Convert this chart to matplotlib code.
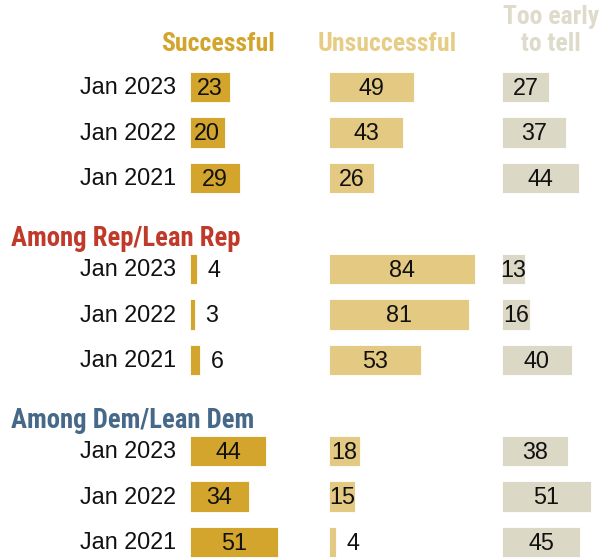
import matplotlib
matplotlib.use("Agg")
import matplotlib.pyplot as plt
from matplotlib import font_manager as fm

# ---- data ----
row_labels = ["Jan 2023", "Jan 2022", "Jan 2021"]
group_titles = ["", "Among Rep/Lean Rep", "Among Dem/Lean Dem"]
column_titles = ["Successful", "Unsuccessful", "Too early\nto tell"]

successful_all = [23, 20, 29]
unsuccessful_all = [49, 43, 26]
too_early_all = [27, 37, 44]

successful_rep = [4, 3, 6]
unsuccessful_rep = [84, 81, 53]
too_early_rep = [13, 16, 40]

successful_dem = [44, 34, 51]
unsuccessful_dem = [18, 15, 4]
too_early_dem = [38, 51, 45]

groups = [
    [successful_all, unsuccessful_all, too_early_all],
    [successful_rep, unsuccessful_rep, too_early_rep],
    [successful_dem, unsuccessful_dem, too_early_dem],
]

# ---- style ----
bar_colors = ["#D3A52C", "#E4C983", "#DCD8C6"]
title_colors = ["#D3A52C", "#E6CD86", "#DEDBCB"]
group_colors = [None, "#BF3A2B", "#46698A"]
col_offsets = [0, 80, 180]          # column starts in percentage units
PX = 1.735                          # pixels per percentage point
X0 = 190                            # pixel x of first column
W, H = 606, 558
ROW0, ROWSTEP = 87, 45.5

names = {f.name for f in fm.fontManager.ttflist}
bold_font = ["Roboto Condensed", "Liberation Sans Narrow", "DejaVu Sans"]
bold_font = [f for f in bold_font if f in names] or ["DejaVu Sans"]
stretch = "condensed"
reg_font = ["Liberation Sans", "DejaVu Sans"]

def px(x):
    return (x - X0) / PX

def py(y):
    return (y - ROW0) / ROWSTEP

fig = plt.figure(figsize=(W / 100, H / 100), dpi=100)
ax = fig.add_axes([0, 0, 1, 1])
ax.set_xlim(px(0), px(W))
ax.set_ylim(py(H), py(0))
ax.axis("off")

row_idx = 0
for g, (title, series) in enumerate(zip(group_titles, groups)):
    if title:
        ax.text(px(11), row_idx - 1 + 0.33, title, ha="left", va="center",
                fontsize=19.3, fontweight="bold", color=group_colors[g],
                family=bold_font, fontstretch=stretch)
    ypos = [row_idx + i for i in range(len(row_labels))]
    for lab, y in zip(row_labels, ypos):
        ax.text(px(176), y + 0.02, lab, ha="right", va="center", fontsize=16.8,
                family=reg_font, color="#111111")
    for c, vals in enumerate(series):
        ax.barh(ypos, vals, left=col_offsets[c], height=0.67,
                color=bar_colors[c], edgecolor="white", linewidth=0.6)
        for v, y in zip(vals, ypos):
            if v >= 10:
                ax.text(col_offsets[c] + v / 2, y + 0.03, str(v), ha="center",
                        va="center", fontsize=16.8, family=reg_font, color="#111111")
            else:
                ax.text(col_offsets[c] + v + 6.0, y + 0.03, str(v), ha="left",
                        va="center", fontsize=16.8, family=reg_font, color="#111111")
    row_idx += 4

# column titles
title_x = [218, 387, 551]
for c, t in enumerate(column_titles):
    lines = t.split("\n")
    for k, line in enumerate(lines):
        ybase = 44 - 27 * (len(lines) - 1 - k)
        ax.text(px(title_x[c]), py(ybase), line,
                ha="center", va="center", fontsize=18.5, fontweight="bold",
                color=title_colors[c], family=bold_font, fontstretch=stretch)

fig.savefig("out.png", dpi=100)
